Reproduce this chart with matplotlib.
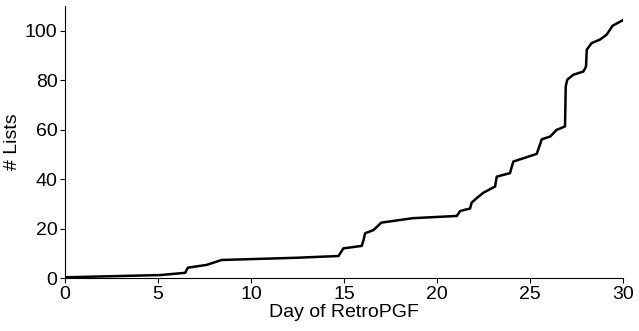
import matplotlib
matplotlib.use("Agg")
from matplotlib import pyplot as plt

plt.rcParams['font.family'] = ['Liberation Sans', 'DejaVu Sans']

days = [0.0, 5.1, 6.45, 6.6, 7.6, 8.42, 12.46, 13.7, 14.7, 14.96, 15.95, 16.05, 16.13,
        16.58, 17.0, 18.7, 21.06, 21.24, 21.77, 21.86, 22.13, 22.49, 23.12, 23.21,
        23.92, 24.1, 25.36, 25.63, 26.08, 26.43, 26.88, 26.92, 27.0, 27.33, 27.87,
        28.01, 28.05, 28.31, 28.76, 29.12, 29.44, 30.0]
lists = [0.3, 1.2, 2.1, 4.2, 5.3, 7.3, 8.2, 8.6, 8.9, 12.0, 13.0, 15.5, 18.1,
         19.4, 22.4, 24.2, 25.1, 27.1, 28.1, 30.5, 32.3, 34.5, 37.0, 41.0,
         42.4, 47.1, 50.2, 56.1, 57.2, 59.9, 61.3, 77.5, 80.2, 82.2, 83.5,
         85.5, 92.3, 95.0, 96.4, 98.4, 102.0, 104.3]

fig = plt.figure(figsize=(6.39, 3.31), dpi=100)
ax = fig.add_axes([0.102, 0.16, 0.873, 0.822])
ax.plot(days, lists, color="black", linewidth=1.8)
ax.set_xlim(0, 30)
ax.set_ylim(0, 110)
ax.set_xticks([0, 5, 10, 15, 20, 25, 30])
ax.set_yticks([0, 20, 40, 60, 80, 100])
ax.set_xlabel("Day of RetroPGF", fontsize=14, labelpad=1)
ax.set_ylabel("# Lists", fontsize=14)
ax.yaxis.set_label_coords(-0.08, 0.5)
ax.tick_params(labelsize=14, pad=2)
ax.spines['top'].set_visible(False)
ax.spines['right'].set_visible(False)
fig.savefig("out.png", dpi=100)
